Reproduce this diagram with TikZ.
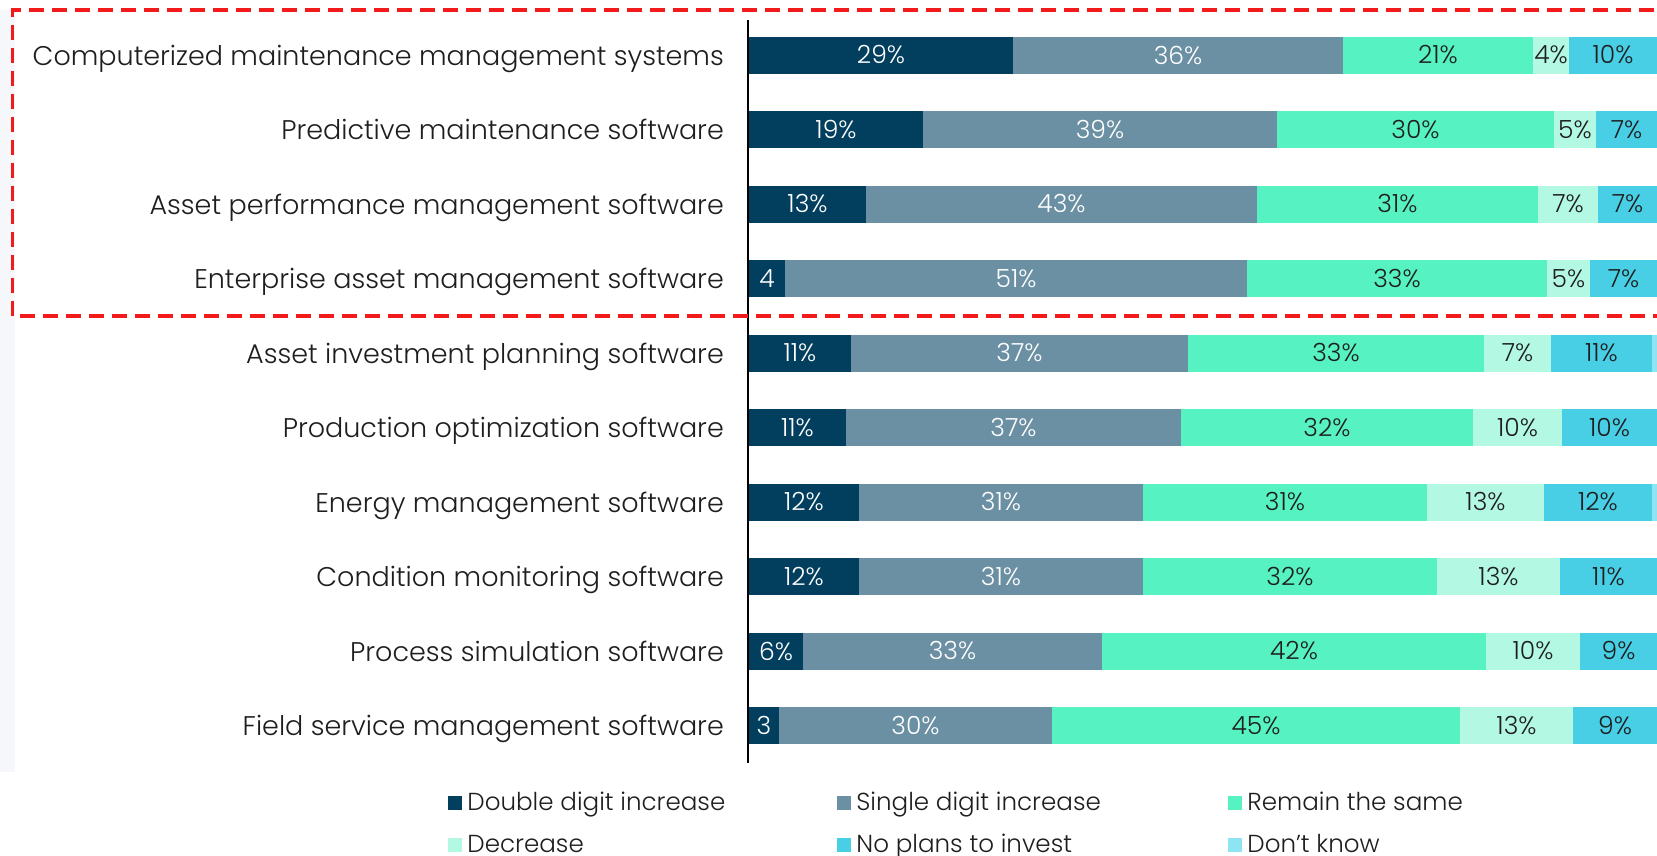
\documentclass[tikz,border=0pt]{standalone}
\usepackage{fontspec}
\setmainfont{Poppins Light}
\definecolor{cdd}{HTML}{023F5E}
\definecolor{csd}{HTML}{6B8FA3}
\definecolor{crs}{HTML}{57F2C1}
\definecolor{cde}{HTML}{B3F8E3}
\definecolor{cnp}{HTML}{48CFE5}
\definecolor{cdk}{HTML}{8DE4F2}
\definecolor{txt}{HTML}{1E1E1E}
\definecolor{hred}{HTML}{F21B1B}
\definecolor{panel}{HTML}{F5F7FA}
\begin{document}
\begin{tikzpicture}[x=1pt,y=-1pt,
  rowlbl/.style={anchor=base east,inner sep=0pt,text=txt,font=\fontsize{27}{32}\selectfont},
  seglbl/.style={inner sep=0pt,font=\fontsize{25}{30}\selectfont},
  leglbl/.style={anchor=base west,inner sep=0pt,text=txt,font=\fontsize{24.6}{30}\selectfont},
  legmark/.style={minimum size=14pt,inner sep=0pt,draw=none},
  highlight/.style={draw=hred,line width=3.3pt,dash pattern=on 15pt off 8pt},
  axisline/.style={line width=2pt,black}]
\useasboundingbox (0,0) rectangle (1657,855);
\fill[white] (0,0) rectangle (1657,855);
\fill[panel] (0,10) rectangle (15,772);
\foreach \i/\lab/\a/\b/\c/\d/\e/\la/\lb/\lc/\ld/\le in {
 1/Computerized maintenance management systems/1013/1343/1533/1569/1657/29\%/36\%/21\%/4\%/10\%,
 2/Predictive maintenance software/923/1277/1554/1596/1657/19\%/39\%/30\%/5\%/7\%,
 3/Asset performance management software/866/1257/1538/1598/1657/13\%/43\%/31\%/7\%/7\%,
 4/Enterprise asset management software/785/1247/1547/1590/1657/4/51\%/33\%/5\%/7\%,
 5/Asset investment planning software/851/1188/1484/1551/1652/11\%/37\%/33\%/7\%/11\%,
 6/Production optimization software/846/1181/1473/1562/1657/11\%/37\%/32\%/10\%/10\%,
 7/Energy management software/859/1143/1427/1544/1652/12\%/31\%/31\%/13\%/12\%,
 8/Condition monitoring software/859/1143/1437/1560/1657/12\%/31\%/32\%/13\%/11\%,
 9/Process simulation software/803/1102/1486/1580/1657/6\%/33\%/42\%/10\%/9\%,
 10/Field service management software/779/1052/1460/1573/1657/3/30\%/45\%/13\%/9\%}{
  \pgfmathsetmacro\y{55+(\i-1)*74.5}
  \node[rowlbl] (lab\i) at (724,\y+10) {\lab};
  \fill[cdd] (749,\y-18.5) rectangle (\a,\y+18.5);
  \fill[csd] (\a,\y-18.5) rectangle (\b,\y+18.5);
  \fill[crs] (\b,\y-18.5) rectangle (\c,\y+18.5);
  \fill[cde] (\c,\y-18.5) rectangle (\d,\y+18.5);
  \fill[cnp] (\d,\y-18.5) rectangle (\e,\y+18.5);
  \fill[cdk] (\e,\y-18.5) rectangle (1657,\y+18.5);
  \node[seglbl,text=white] (s\i a) at ({(749+\a)/2},\y) {\la};
  \node[seglbl,text=white] (s\i b) at ({(\a+\b)/2},\y) {\lb};
  \node[seglbl,text=txt] (s\i c) at ({(\b+\c)/2},\y) {\lc};
  \node[seglbl,text=txt] (s\i d) at ({(\c+\d)/2},\y) {\ld};
  \node[seglbl,text=txt] (s\i e) at ({(\d+\e)/2},\y) {\le};
}
\coordinate (axtop) at (748,20);
\coordinate (axbot) at (748,763);
\draw[axisline] (axtop) -- (axbot);
\draw[highlight] (1700,10) -- (12.7,10) -- (12.7,316) -- (1700,316);
% legend
\foreach \n/\col/\x/\yy/\t in {
  m1/cdd/455/803/Double digit increase,
  m2/csd/844/803/Single digit increase,
  m3/crs/1235/803/Remain the same,
  m4/cde/455/845/Decrease,
  m5/cnp/844/845/No plans to invest,
  m6/cdk/1235/845/Don’t know}{
  \node[legmark,fill=\col] (\n) at (\x,\yy) {};
  \node[leglbl] (\n t) at ([xshift=5pt,yshift=-7.5pt]\n.east) {\t};
}
\end{tikzpicture}
\end{document}
